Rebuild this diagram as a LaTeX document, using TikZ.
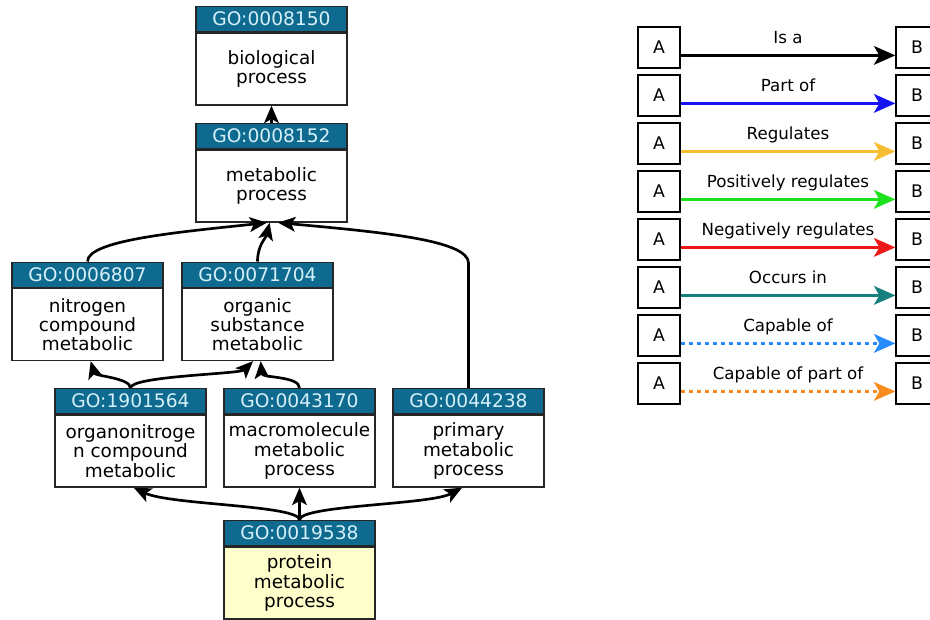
\documentclass[tikz,border=0pt]{standalone}
\usepackage{fontspec}
\setmainfont{DejaVu Sans}
\usetikzlibrary{arrows.meta}
\usetikzlibrary{positioning}

\definecolor{idband}{RGB}{14,106,142}
\definecolor{idtext}{RGB}{214,240,250}
\definecolor{termyellow}{RGB}{255,255,204}
\definecolor{partofcol}{RGB}{20,20,245}
\definecolor{regcol}{RGB}{248,190,50}
\definecolor{poscol}{RGB}{30,225,30}
\definecolor{negcol}{RGB}{238,24,24}
\definecolor{occcol}{RGB}{22,128,128}
\definecolor{capcol}{RGB}{40,140,255}
\definecolor{cappcol}{RGB}{248,140,30}

\tikzset{
  goterm/.style={draw=black!85, line width=1pt, fill=white,
    minimum width=113.25pt, minimum height=54pt, inner xsep=0pt,
    align=center, font=\fontsize{13.8}{14.4}\selectfont},
  goid/.style={draw=black!85, line width=1pt, fill=idband, text=idtext,
    minimum width=113.25pt, minimum height=18.75pt, inner sep=0pt,
    anchor=south, font=\fontsize{14}{15}\selectfont},
  isa/.style={line width=2pt, -{Stealth[length=13pt,width=11pt,inset=3pt]}},
  legbox/.style={draw, line width=1pt, fill=white,
    minimum width=31.5pt, minimum height=30.75pt,
    font=\fontsize{13}{14}\selectfont},
  legarrow/.style={line width=2.2pt, -{Stealth[length=16pt,width=14pt,inset=4pt]}},
  dotline/.style={dash pattern=on 3pt off 3pt},
  leglabel/.style={anchor=base, yshift=8.6pt, font=\fontsize{12.5}{14}\selectfont}
}

\begin{document}
\begin{tikzpicture}[x=0.75pt, y=-0.75pt]
  \useasboundingbox (0,0) rectangle (930,619);

  % GO terms, body first, id band on top
  \node[goterm] (bp) at (271.5,69) {biological\\process};
  \node[goid] (bp-id) at (bp.north) {GO:0008150};
  \node[goterm] (mp) at (271.5,186) {metabolic\\process};
  \node[goid] (mp-id) at (mp.north) {GO:0008152};
  \node[goterm] (ncm) at (87.5,324.5) {nitrogen\\compound\\metabolic};
  \node[goid] (ncm-id) at (ncm.north) {GO:0006807};
  \node[goterm] (osm) at (257.5,324.5) {organic\\substance\\metabolic};
  \node[goid] (osm-id) at (osm.north) {GO:0071704};
  \node[goterm] (oncm) at (130.5,451) {organonitroge\\n compound\\metabolic};
  \node[goid] (oncm-id) at (oncm.north) {GO:1901564};
  \node[goterm] (mmp) at (299.5,451) {macromolecule\\metabolic\\process};
  \node[goid] (mmp-id) at (mmp.north) {GO:0043170};
  \node[goterm] (pmp) at (468.5,451) {primary\\metabolic\\process};
  \node[goid] (pmp-id) at (pmp.north) {GO:0044238};
  \node[goterm, fill=termyellow] (prmp) at (299.5,583) {protein\\metabolic\\process};
  \node[goid] (prmp-id) at (prmp.north) {GO:0019538};

  % is_a edges
  \draw[isa] (mp-id.north) -- (bp.south);
  \draw[isa] (ncm-id.north) .. controls (87.5,240) and (180,232) .. (mp.-97);
  \draw[isa] (osm-id.north) .. controls (257.5,245) and (266,238) .. (mp.-93);
  \draw[isa] (pmp-id.north) -- ++(0,-125) .. controls +(0,-23) and (380,232) .. (mp.-80);
  \draw[isa] (oncm-id.north) .. controls (130.5,378) and (95,376) .. (ncm.-85);
  \draw[isa] (oncm-id.north) .. controls (130.5,376) and (240,374) .. (osm.-97);
  \draw[isa] (mmp-id.north) .. controls (299.5,376) and (262,378) .. (osm.-85);
  \draw[isa] (prmp-id.north) .. controls (299.5,505) and (170,505) .. (oncm.-85);
  \draw[isa] (prmp-id.north) -- (mmp.south);
  \draw[isa] (prmp-id.north) .. controls (299.5,505) and (430,505) .. (pmp.-100);

  % legend
  \foreach \lab/\col/\sty [count=\i from 0] in {Is a/black/solid,
      Part of/partofcol/solid, Regulates/regcol/solid,
      Positively regulates/poscol/solid, Negatively regulates/negcol/solid,
      Occurs in/occcol/solid, Capable of/capcol/dotline,
      Capable of part of/cappcol/dotline} {
    \node[legbox] (a\i) at (659,47.5+48*\i) {A};
    \node[legbox] (b\i) at (917,47.5+48*\i) {B};
    \draw[legarrow, draw=\col, \sty] (a\i.-20) -- (b\i.200)
      node[midway, leglabel, text=black] {\lab};
  }
\end{tikzpicture}
\end{document}
